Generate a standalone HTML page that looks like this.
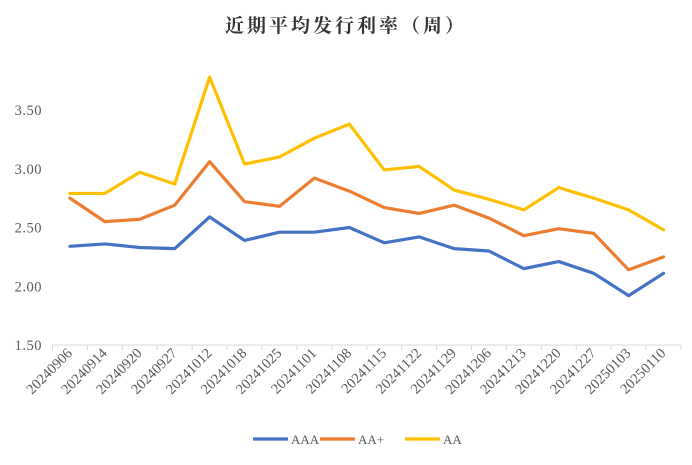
<!DOCTYPE html>
<html><head><meta charset="utf-8"><style>
body{margin:0;background:#fff}
svg{display:block}
text{font-family:"Liberation Serif","Noto Serif CJK SC",serif}
</style></head><body>
<svg id="chart" width="692" height="465">
<text x="346" y="32" text-anchor="middle" font-size="19" font-weight="bold" fill="#333" letter-spacing="3" style="font-family:'Noto Serif CJK SC',serif">近期平均发行利率（周）</text>
<g id="grid"></g><g id="series"></g><g id="legend"></g>
</svg>
<script>
const categories=["20240906","20240914","20240920","20240927","20241012","20241018","20241025","20241101","20241108","20241115","20241122","20241129","20241206","20241213","20241220","20241227","20250103","20250110"];
const aaa=[2.34,2.36,2.33,2.32,2.59,2.39,2.46,2.46,2.50,2.37,2.42,2.32,2.30,2.15,2.21,2.11,1.92,2.11];
const aaPlus=[2.75,2.55,2.57,2.69,3.06,2.72,2.68,2.92,2.81,2.67,2.62,2.69,2.58,2.43,2.49,2.45,2.14,2.25];
const aa=[2.79,2.79,2.97,2.87,3.78,3.04,3.10,3.26,3.38,2.99,3.02,2.82,2.74,2.65,2.84,2.75,2.65,2.48];
const yTicks=[1.5,2.0,2.5,3.0,3.5];
const seriesNames=["AAA","AA+","AA"];
const colors=["#4472C4","#ED7D31","#FFC000"];
const NS="http://www.w3.org/2000/svg";
const x0=52.5,x1=681,yBase=345,yTop=110;
const band=(x1-x0)/categories.length;
const xs=i=>x0+band*(i+0.5);
const ys=v=>yBase-(v-1.5)/(3.5-1.5)*(yBase-yTop);
function mk(t,a,p){const e=document.createElementNS(NS,t);for(const k in a)e.setAttribute(k,a[k]);p.appendChild(e);return e;}
const g=document.getElementById('grid');
const ax=mk('line',{x1:x0,x2:x1,y1:yBase,y2:yBase,stroke:'#d9d9d9','stroke-width':1},g);


for(let i=0;i<=categories.length;i++){
 const t=mk('line',{x1:x0+band*i,x2:x0+band*i,y1:yBase,y2:yBase+5,stroke:'#d9d9d9'},g);
 
 
}
yTicks.forEach(v=>{
 const t=mk('text',{x:42,y:ys(v)+5,'text-anchor':'end','font-size':'14.5',fill:'#595959','letter-spacing':'0.5'},g);
 t.textContent=v.toFixed(2);
 
 
});
categories.forEach((c,i)=>{
 const x=xs(i)+3,y=yBase+9;
 const t=mk('text',{x:x,y:y,'text-anchor':'end','font-size':'14.5',fill:'#595959',transform:`rotate(-45 ${x} ${y})`},g);
 t.textContent=c;
 
 
});
const s=document.getElementById('series');
[aaa,aaPlus,aa].forEach((d,k)=>{
 const p=mk('polyline',{points:d.map((v,i)=>xs(i)+','+ys(v)).join(' '),fill:'none',stroke:colors[k],'stroke-width':3.2,'stroke-linejoin':'round','stroke-linecap':'round'},s);
 
 
});
const L=document.getElementById('legend');
const lx=[253,320,405];
seriesNames.forEach((n,k)=>{
 const l=mk('line',{x1:lx[k],x2:lx[k]+35,y1:439,y2:439,stroke:colors[k],'stroke-width':3.2},L);
 
 
 const t=mk('text',{x:lx[k]+38,y:444,'font-size':'13',fill:'#595959'},L);
 t.textContent=n;
 
 
});
</script>
</body></html>
